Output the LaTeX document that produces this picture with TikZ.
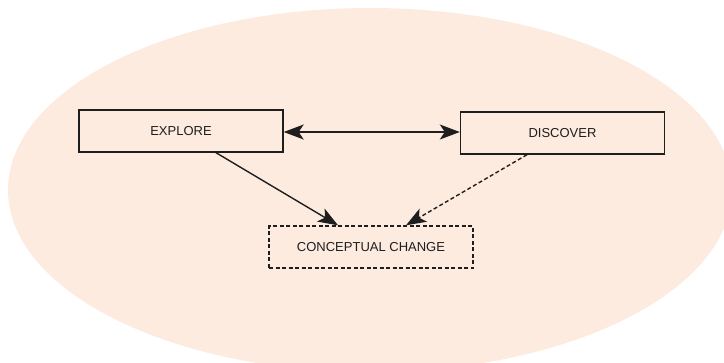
\documentclass[tikz,border=0pt]{standalone}
\usepackage{fontspec}
\setmainfont{Liberation Sans}
\usetikzlibrary{arrows.meta}
\definecolor{peach}{HTML}{FDEBE0}
\definecolor{ink}{HTML}{1E1E1E}
\begin{document}
\begin{tikzpicture}[x=1pt,y=-1pt,
  stagebox/.style={draw=ink, line width=1.4pt, minimum width=204pt, minimum height=42pt,
    inner sep=0pt, text=ink, font=\fontsize{13}{15}\selectfont},
  dashes/.style={dash pattern=on 4pt off 2.5pt},
  link/.style={draw=ink, line width=1.4pt,
    arrows={-Stealth[length=20pt,width=15pt,inset=5pt]}},
  duallink/.style={draw=ink, line width=1.4pt,
    arrows={Stealth[length=20pt,width=15pt,inset=5pt]-Stealth[length=20pt,width=15pt,inset=5pt]}},
  dashlink/.style={link, dashes}]
  \useasboundingbox (0,0) rectangle (724,362);
  \begin{scope}
    \clip (0,0) rectangle (724,362);
    \fill[peach] (370,190) ellipse [x radius=362, y radius=182];
  \end{scope}
  \node[stagebox] (explore) at (181,131) {EXPLORE};
  \node[stagebox] (discover) at (562.5,133) {DISCOVER};
  \node[stagebox, dashes] (change) at (371,247) {CONCEPTUAL CHANGE};
  \draw[duallink] (explore.east |- 0,132) -- (discover.west |- 0,132);
  \draw[link] (explore.south -| 216,0) -- (change.north -| 338,0);
  \draw[dashlink] (discover.south -| 527,0) -- (change.north -| 406,0);
\end{tikzpicture}
\end{document}
